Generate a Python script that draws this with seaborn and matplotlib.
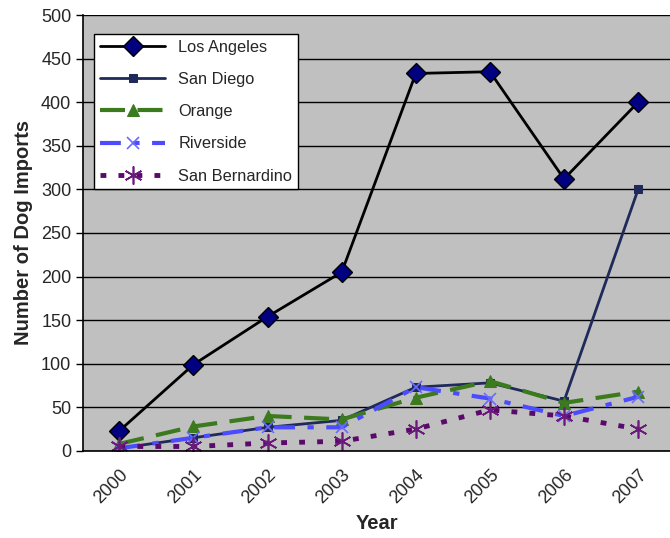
import numpy as np
import pandas as pd
import seaborn as sns
import matplotlib.pyplot as plt

# Dog imports by county
years = ["2000", "2001", "2002", "2003", "2004", "2005", "2006", "2007"]
los_angeles = [23, 99, 154, 205, 433, 435, 312, 400]
san_diego = [3, 15, 27, 35, 73, 78, 57, 300]
orange = [8, 28, 40, 36, 61, 80, 55, 68]
riverside = [3, 15, 27, 27, 73, 60, 40, 62]
san_bernardino = [5, 5, 9, 11, 25, 47, 40, 25]

sns.set_style("white")
plt.rcParams["font.family"] = ["Liberation Sans", "DejaVu Sans"]

fig = plt.figure(figsize=(6.7, 5.38), dpi=100)
ax = fig.add_axes([0.124, 0.162, 0.876, 0.810])
ax.set_facecolor("#C0C0C0")

pos = np.arange(len(years))

series = [
    ("Los Angeles", los_angeles, dict(color="black", linestyle="-", linewidth=2,
                                      marker="D", markersize=10, markerfacecolor="#000080",
                                      markeredgecolor="black", markeredgewidth=1)),
    ("San Diego", san_diego, dict(color="#1F2A5A", linestyle="-", linewidth=2,
                                  marker="s", markersize=6, markerfacecolor="#1F2A5A",
                                  markeredgecolor="#1F2A5A")),
    ("Orange", orange, dict(color="#3C7A1E", linestyle=(0, (6, 3)), linewidth=3,
                            marker="^", markersize=8, markerfacecolor="#3C7A1E",
                            markeredgecolor="#3C7A1E")),
    ("Riverside", riverside, dict(color="#4B4BFF", linestyle=(0, (5, 3, 1.5, 3)), linewidth=3,
                                  marker="x", markersize=8, markeredgewidth=1.2,
                                  markeredgecolor="#6B6BFF")),
    ("San Bernardino", san_bernardino, dict(color="#5A0A6A", linestyle=(0, (1.2, 2.5)), linewidth=3.5,
                                            marker=(6, 2, 0), markersize=13, markeredgewidth=1.2,
                                            markeredgecolor="#6A1A7A")),
]

for name, vals, style in series:
    df = pd.DataFrame({"pos": pos, "val": vals})
    sns.lineplot(data=df, x="pos", y="val", ax=ax, label=name, **style)

ax.set_xlim(-0.49, 7.43)
ax.set_ylim(0, 500)
ax.set_yticks(np.arange(0, 501, 50))
ax.set_xticks(pos)
ax.set_xticklabels(years, rotation=45, ha="right", rotation_mode="anchor")
ax.set_xticks(np.arange(0.5, 7.5, 1), minor=True)
ax.tick_params(axis="x", which="major", length=0, labelsize=13, pad=11)
ax.tick_params(axis="x", which="minor", length=6, width=1, color="black", direction="out")
ax.tick_params(axis="y", length=5, width=1, color="black", labelsize=13, direction="out", left=True)
ax.grid(axis="y", color="black", linewidth=1)
ax.set_axisbelow(True)

for side in ["top", "right"]:
    ax.spines[side].set_visible(False)
for side in ["left", "bottom"]:
    ax.spines[side].set_color("black")
    ax.spines[side].set_linewidth(1.2)

ax.set_xlabel("Year", fontsize=14.5, fontweight="bold", labelpad=5)
ax.set_ylabel("Number of Dog Imports", fontsize=14.5, fontweight="bold", labelpad=6)

leg = ax.legend(loc="upper left", bbox_to_anchor=(0.1403, 0.9368), bbox_transform=fig.transFigure,
                fontsize=11.8, frameon=True, fancybox=False, edgecolor="black", facecolor="white",
                framealpha=1, handlelength=4.0, labelspacing=1.05, borderpad=0.35,
                handletextpad=0.8, borderaxespad=0)
leg.get_frame().set_linewidth(1)

fig.savefig("out.png", dpi=100)
